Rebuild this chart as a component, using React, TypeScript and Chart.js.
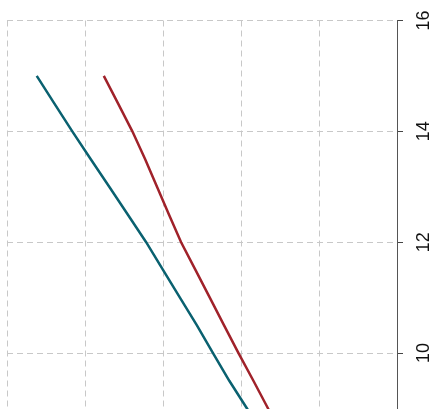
import React, { useEffect, useRef } from "react";
import { Chart, registerables } from "chart.js";

Chart.register(...registerables);

const depthLevels = [15, 14.5, 14, 13.5, 13, 12.5, 12, 11.5, 11, 10.5, 10, 9.5, 9, 8.5];
const tealValues = [0.381, 0.608, 0.837, 1.072, 1.311, 1.548, 1.784, 2.0, 2.217, 2.435, 2.641, 2.85, 3.077, 3.295];
const redValues = [1.241, 1.425, 1.607, 1.77, 1.923, 2.076, 2.232, 2.416, 2.6, 2.783, 2.968, 3.159, 3.347, 3.526];
const yTickValues = [8, 10, 12, 14, 16];
const xGridValues = [0, 1, 2, 3, 4, 5];

export default function App() {
  const canvasRef = useRef<HTMLCanvasElement | null>(null);

  useEffect(() => {
    if (!canvasRef.current) return;
    const toPoints = (vals: number[]) => vals.map((v, i) => ({ x: v, y: depthLevels[i] }));
    const chart = new Chart(canvasRef.current, {
      type: "scatter",
      data: {
        datasets: [
          {
            data: toPoints(tealValues),
            showLine: true,
            borderColor: "#0a6170",
            backgroundColor: "#0a6170",
            borderWidth: 2.5,
            pointRadius: 0,
            tension: 0,
          },
          {
            data: toPoints(redValues),
            showLine: true,
            borderColor: "#a0222a",
            backgroundColor: "#a0222a",
            borderWidth: 2.5,
            pointRadius: 0,
            tension: 0,
          },
        ],
      },
      options: {
        responsive: false,
        animation: false,
        devicePixelRatio: 1,
        layout: { padding: { left: 7, top: 20.5, right: 0, bottom: 16.1 } },
        plugins: { legend: { display: false }, tooltip: { enabled: false } },
        scales: {
          x: {
            type: "linear",
            min: 0,
            max: 5,
            afterBuildTicks: (scale: any) => {
              scale.ticks = xGridValues.map((v) => ({ value: v }));
            },
            afterFit: (scale: any) => {
              scale.height = 0;
              scale.paddingLeft = 0;
              scale.paddingRight = 0;
            },
            ticks: { display: false },
            grid: { color: "#c8c8c8", lineWidth: 1, drawTicks: false },
            border: { display: false, dash: [6, 4] },
          },
          y: {
            type: "linear",
            position: "right",
            min: 8,
            max: 16,
            afterBuildTicks: (scale: any) => {
              scale.ticks = yTickValues.map((v) => ({ value: v }));
            },
            afterFit: (scale: any) => {
              scale.width = 43;
              scale.paddingTop = 0;
              scale.paddingBottom = 0;
            },
            ticks: {
              minRotation: 90,
              maxRotation: 90,
              crossAlign: "center",
              color: "#111",
              padding: 11,
              font: { family: "'Liberation Sans', Arial, sans-serif", size: 18 },
            },
            grid: {
              color: "#c8c8c8",
              lineWidth: 1,
              drawTicks: true,
              tickLength: 6,
              tickColor: "#444",
              tickBorderDash: [],
            },
            border: { display: true, color: "#555", width: 1, dash: [6, 4] },
          },
        },
      },
    });
    return () => chart.destroy();
  }, []);

  return (
    <div style={{ position: "absolute", left: 0, top: 0, width: 440, height: 409, overflow: "hidden", background: "#fff" }}>
      <canvas ref={canvasRef} width={440} height={480} style={{ display: "block", width: 440, height: 480 }} />
    </div>
  );
}
